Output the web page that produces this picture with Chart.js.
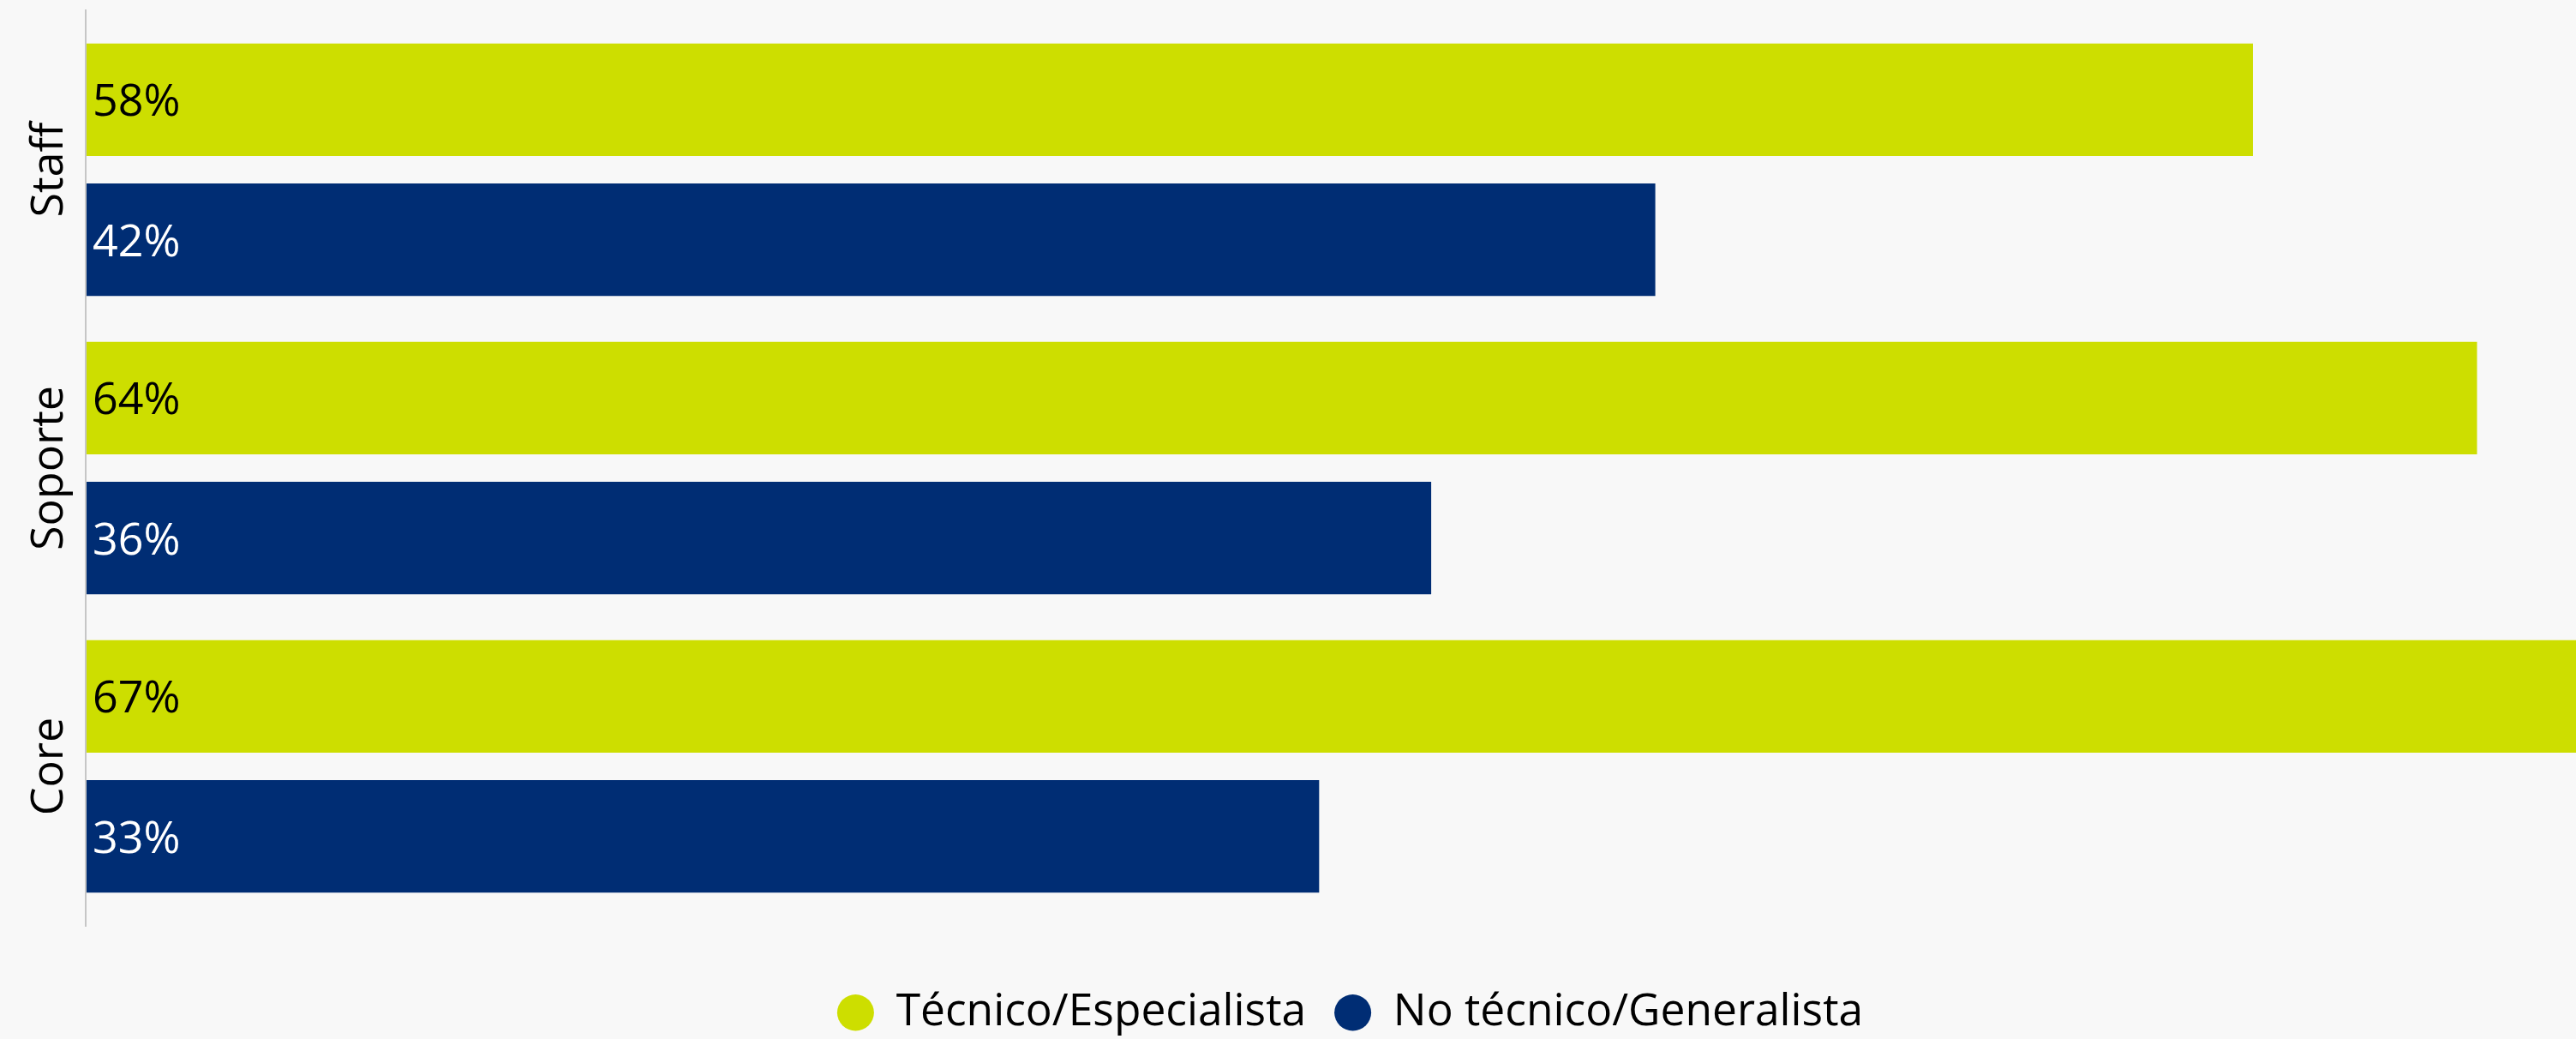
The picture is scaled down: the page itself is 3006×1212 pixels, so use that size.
<!DOCTYPE html>
<html lang="es">
<head>
<meta charset="utf-8">
<title>Perfil técnico por tipo de rol</title>
<script src="https://cdn.jsdelivr.net/npm/chart.js@4.4.1/dist/chart.umd.min.js"></script>
<style>
    html, body { margin: 0; padding: 0; background: #f8f8f8; }
    .chart-wrap { position: relative; width: 3006px; height: 1212px; }
</style>
</head>
<body>
<div class="chart-wrap"><canvas id="perfilChart"></canvas></div>
<script>
// Data
const categorias = ['Staff', 'Soporte', 'Core'];
const serieNombres = ['Técnico/Especialista', 'No técnico/Generalista'];
const tecnico = [58, 64, 67];
const noTecnico = [42, 36, 33];

const colores = { verde: '#cdde00', azul: '#002d74', eje: '#c6c6c6', texto: '#000000' };
const fuente = '"Open Sans", "Noto Sans", sans-serif';

// Value labels inside the bars, rotated category names and the left axis rule
const etiquetasPlugin = {
    id: 'etiquetas',
    afterLayout(chart) {
        const lg = chart.legend;
        lg.left += 22; lg.right += 22;
        lg.top += 5; lg.bottom += 5;
    },
    afterDatasetsDraw(chart) {
        const { ctx, chartArea, scales } = chart;
        ctx.save();

        ctx.strokeStyle = colores.eje;
        ctx.lineWidth = 2;
        ctx.beginPath();
        ctx.moveTo(chartArea.left - 1, chartArea.top - 13);
        ctx.lineTo(chartArea.left - 1, chartArea.bottom + 13);
        ctx.stroke();

        ctx.font = '52px ' + fuente;
        ctx.textAlign = 'left';
        ctx.textBaseline = 'alphabetic';
        const textoColor = ['#000000', '#ffffff'];
        chart.data.datasets.forEach((ds, i) => {
            chart.getDatasetMeta(i).data.forEach((bar, j) => {
                ctx.fillStyle = textoColor[i];
                ctx.fillText(ds.data[j] + '%', bar.base + 7, bar.y + 19);
            });
        });

        ctx.fillStyle = colores.texto;
        ctx.textAlign = 'center';
        scales.y.ticks.forEach((t, j) => {
            const y = scales.y.getPixelForTick(j);
            ctx.save();
            ctx.translate(73, y);
            ctx.rotate(-Math.PI / 2);
            ctx.fillText(categorias[j], 0, 0);
            ctx.restore();
        });
        ctx.restore();
    }
};

new Chart(document.getElementById('perfilChart'), {
    type: 'bar',
    data: {
        labels: categorias,
        datasets: [
            { label: serieNombres[0], data: tecnico, backgroundColor: colores.verde, borderWidth: 0 },
            { label: serieNombres[1], data: noTecnico, backgroundColor: colores.azul, borderWidth: 0 }
        ]
    },
    options: {
        indexAxis: 'y',
        responsive: true,
        maintainAspectRatio: false,
        animation: false,
        categoryPercentage: 0.9375,
        barPercentage: 0.804,
        layout: { padding: { top: 24, right: 0, bottom: 0, left: 0 } },
        plugins: {
            tooltip: { enabled: false },
            legend: {
                position: 'bottom',
                fullSize: false,
                labels: {
                    usePointStyle: true,
                    pointStyle: 'circle',
                    pointStyleWidth: 43,
                    boxWidth: 43,
                    boxHeight: 30,
                    padding: 33,
                    color: colores.texto,
                    font: { family: fuente, size: 51.5 }
                }
            }
        },
        scales: {
            x: {
                min: 0,
                max: 66.65,
                grid: { display: false },
                border: { display: false },
                ticks: { display: false },
                afterFit(scale) { scale.height = 49.5; }
            },
            y: {
                grid: { display: false },
                border: { display: false },
                ticks: { display: false },
                afterFit(scale) { scale.width = 101; }
            }
        }
    },
    plugins: [etiquetasPlugin]
});
</script>
</body>
</html>
